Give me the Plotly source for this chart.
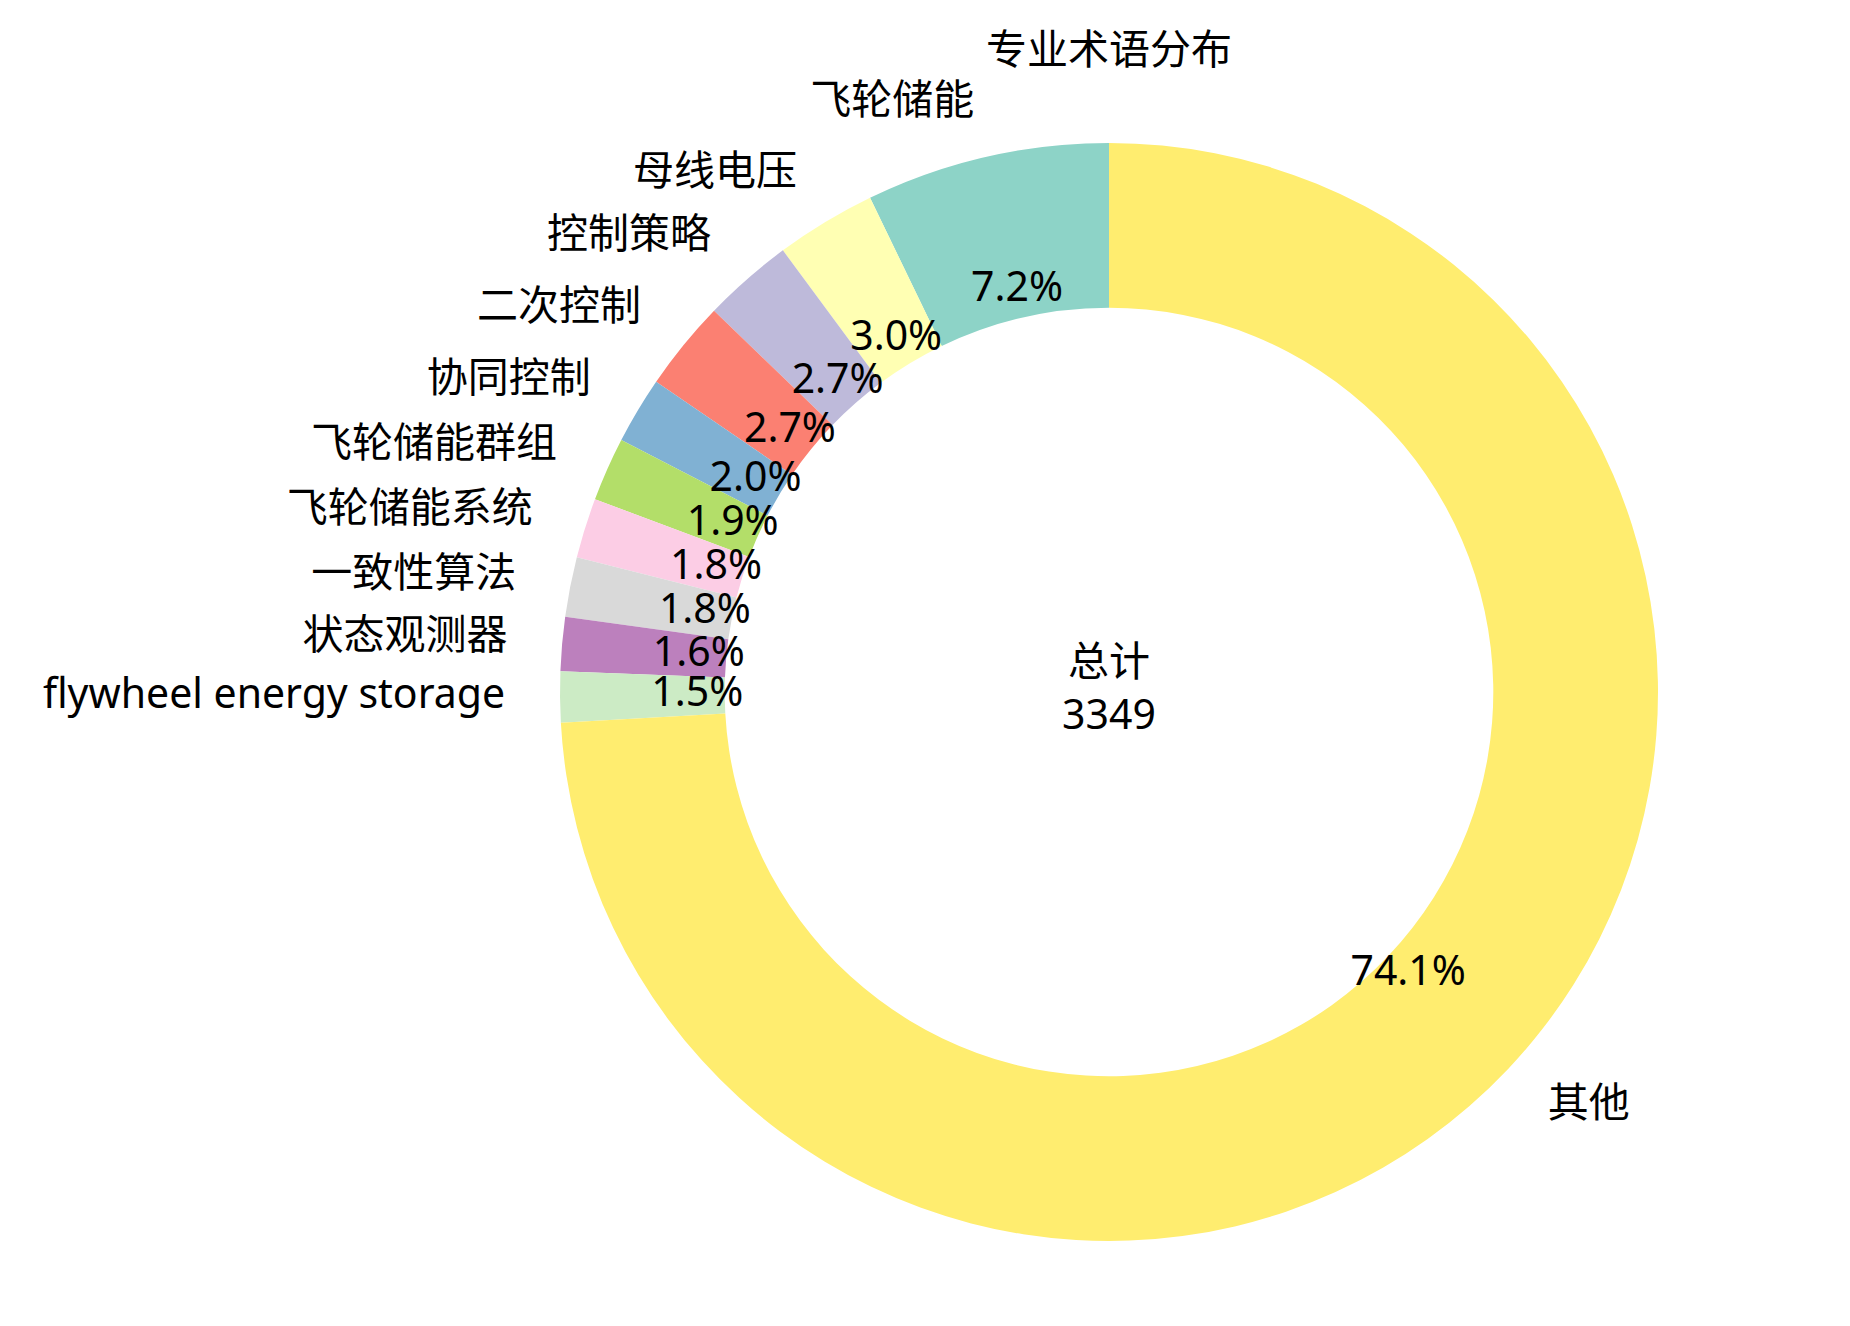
import plotly.graph_objects as go

# term counts (total 3349)
labels = ['飞轮储能', '母线电压', '控制策略', '二次控制', '协同控制', '飞轮储能群组',
          '飞轮储能系统', '一致性算法', '状态观测器', 'flywheel energy storage', '其他']
counts = [240, 99, 89, 89, 66, 63, 59, 59, 53, 50, 2482]
colors = ['#8dd3c7', '#ffffb3', '#bebada', '#fb8072', '#80b1d3', '#b3de69',
          '#fccde5', '#d9d9d9', '#bc80bd', '#ccebc5', '#ffed6f']
title = '专业术语分布'
center_label = '总计'

# page body has an 8px margin, so the figure is a bit smaller than the window
W, H = 1834, 1310
OFF = 8
FONT = 'Noto Sans, Noto Sans CJK SC, sans-serif'
FS = 41

total = sum(counts)
fracs = [c / total for c in counts]
widths = [f * 360 for f in fracs]
mids = []
acc = 0.0
for w in widths:
    mids.append(acc + w / 2)
    acc += w
pcts = [f'{f * 100:.1f}%' for f in fracs]
# matplotlib-style label alignment: left half -> right aligned
label_pos = ['middle left' if 0 < m < 180 else 'middle right' for m in mids]

fig = go.Figure()

# donut ring
fig.add_trace(go.Barpolar(
    theta=mids,
    width=widths,
    r=[0.3] * len(counts),
    base=[0.7] * len(counts),
    marker=dict(color=colors, line=dict(width=0)),
    hoverinfo='skip',
))

# outer labels
fig.add_trace(go.Scatterpolar(
    theta=mids,
    r=[1.1] * len(counts),
    mode='text',
    text=labels,
    textposition=label_pos,
    textfont=dict(family=FONT, size=FS, color='black'),
    cliponaxis=False,
    hoverinfo='skip',
))

# percentages on the ring
fig.add_trace(go.Scatterpolar(
    theta=mids,
    r=[0.75] * len(counts),
    mode='text',
    text=pcts,
    textposition='middle center',
    textfont=dict(family=FONT, size=FS, color='black'),
    cliponaxis=False,
    hoverinfo='skip',
))

# total in the middle
fig.add_trace(go.Scatterpolar(
    theta=[0],
    r=[0],
    mode='text',
    text=[f'{center_label}<br>{total}'],
    textposition='middle center',
    textfont=dict(family=FONT, size=FS, color='black'),
    cliponaxis=False,
    hoverinfo='skip',
))

# ring centre and outer radius in window pixels; radial axis reaches 1.12
cx, cy, R = 1109 - OFF, 692 - OFF, 549
RMAX = 1.12
Rd = R * RMAX
fig.update_layout(
    width=W,
    height=H,
    margin=dict(l=0, r=0, t=0, b=0),
    paper_bgcolor='white',
    showlegend=False,
    title=dict(
        text=title,
        x=cx / W,
        xanchor='center',
        y=1 - (50 - OFF) / H,
        yanchor='middle',
        font=dict(family=FONT, size=FS, color='black'),
    ),
    polar=dict(
        domain=dict(x=[(cx - Rd) / W, (cx + Rd) / W],
                    y=[(H - cy - Rd) / H, (H - cy + Rd) / H]),
        bgcolor='white',
        bargap=0,
        radialaxis=dict(visible=False, range=[0, RMAX]),
        angularaxis=dict(visible=False, rotation=90, direction='counterclockwise'),
    ),
)

fig.write_html('out.html')
